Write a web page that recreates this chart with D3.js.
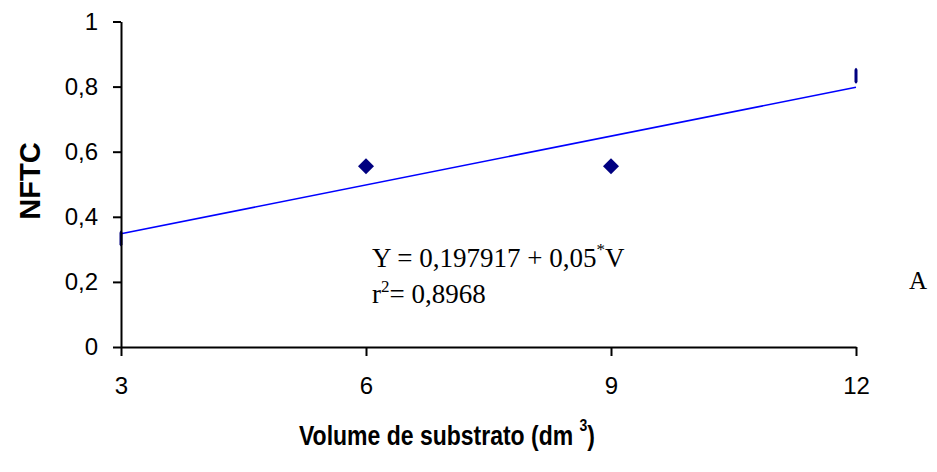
<!DOCTYPE html>
<html>
<head>
<meta charset="utf-8">
<script src="https://cdn.jsdelivr.net/npm/d3@7"></script>
<style>
  body { margin: 0; background: #fff; }
  .axis path, .axis line { stroke: #000; stroke-width: 2px; }
  .axis text { font-family: Arial, "Liberation Sans", sans-serif; font-size: 24px; fill: #000; }
</style>
</head>
<body>
<div id="chart"></div>
<script>
// values
var volumes = [3, 6, 9, 12];
var nftc = [0.3333, 0.5556, 0.5556, 0.8333];
var coefs = [0.197917, 0.05]; // intercept, slope
var xTicks = [3, 6, 9, 12];
var yTicks = [0, 0.2, 0.4, 0.6, 0.8, 1];

var width = 937, height = 472;
var margin = { top: 21.5, right: 81, bottom: 125, left: 121 };

var locale = d3.formatLocale({ decimal: ",", thousands: ".", grouping: [3], currency: ["", ""] });
var fmt = locale.format("~g");

var svg = d3.select("#chart")
  .append("svg")
  .attr("width", width)
  .attr("height", height);

var x = d3.scaleLinear().domain([3, 12]).range([margin.left, width - margin.right]);
var y = d3.scaleLinear().domain([0, 1]).range([height - margin.bottom, margin.top]);

// regression line
var line = d3.line()
  .x(function(d) { return x(d); })
  .y(function(d) { return y(coefs[0] + coefs[1] * d); });

svg.append("path")
  .datum(x.domain())
  .attr("d", line)
  .attr("fill", "none")
  .attr("stroke", "#0000ff")
  .attr("stroke-width", 1.6);

// points, the ones on the frame edge are cut off
var defs = svg.append("defs");
var pts = volumes.map(function(v, i) { return { v: v, n: nftc[i], i: i }; });

pts.forEach(function(d) {
  var edge = d.v == x.domain()[0] || d.v == x.domain()[1];
  var cx = x(d.v), cy = y(d.n);
  var r = 8;
  var g = svg.append("path")
    .attr("d", "M" + cx + "," + (cy - r) + "L" + (cx + r) + "," + cy + "L" + cx + "," + (cy + r) + "L" + (cx - r) + "," + cy + "Z")
    .attr("fill", "#000080");
  if (edge) {
    defs.append("clipPath")
      .attr("id", "clip" + d.i)
      .append("rect")
      .attr("x", cx - 1.5)
      .attr("y", cy - r - 1)
      .attr("width", 3)
      .attr("height", 2 * r + 2);
    g.attr("clip-path", "url(#clip" + d.i + ")");
  }
});

// axes
svg.append("g")
  .attr("class", "axis")
  .attr("transform", "translate(0," + y(0) + ")")
  .call(d3.axisBottom(x).tickValues(xTicks).tickFormat(fmt).tickSize(9).tickSizeOuter(0).tickPadding(21));

svg.append("g")
  .attr("class", "axis")
  .attr("transform", "translate(" + x(3) + ",0)")
  .call(d3.axisLeft(y).tickValues(yTicks).tickFormat(fmt).tickSize(8).tickSizeOuter(0).tickPadding(15));

// axis titles
svg.append("text")
  .attr("transform", "translate(40,181) rotate(-90)")
  .attr("text-anchor", "middle")
  .attr("font-family", "Arial, 'Liberation Sans', sans-serif")
  .attr("font-weight", "bold")
  .attr("font-size", 29)
  .text("NFTC");

var xt = svg.append("text")
  .attr("transform", "translate(447,445) scale(1,1.2)")
  .attr("text-anchor", "middle")
  .attr("font-family", "Arial, 'Liberation Sans', sans-serif")
  .attr("font-weight", "bold")
  .attr("font-size", 23);
xt.append("tspan").text("Volume de substrato (dm ");
xt.append("tspan").attr("font-size", 14).attr("dy", -12).text("3");
xt.append("tspan").attr("dy", 12).text(")");

// equation
var serif = "'Times New Roman', 'Liberation Serif', serif";
var eq1 = svg.append("text")
  .attr("x", 372).attr("y", 267)
  .attr("font-family", serif).attr("font-size", 27);
eq1.append("tspan").text("Y = " + fmt(coefs[0]) + " + " + fmt(coefs[1]));
eq1.append("tspan").attr("font-size", 17).attr("dy", -12).text("*");
eq1.append("tspan").attr("dy", 12).text("V");

var eq2 = svg.append("text")
  .attr("x", 372).attr("y", 303)
  .attr("font-family", serif).attr("font-size", 27);
eq2.append("tspan").text("r");
eq2.append("tspan").attr("font-size", 17).attr("dy", -11).text("2");
eq2.append("tspan").attr("dy", 11).text("= " + fmt(0.8968));

svg.append("text")
  .attr("x", 909).attr("y", 289)
  .attr("font-family", serif).attr("font-size", 25)
  .text("A");
</script>
</body>
</html>
